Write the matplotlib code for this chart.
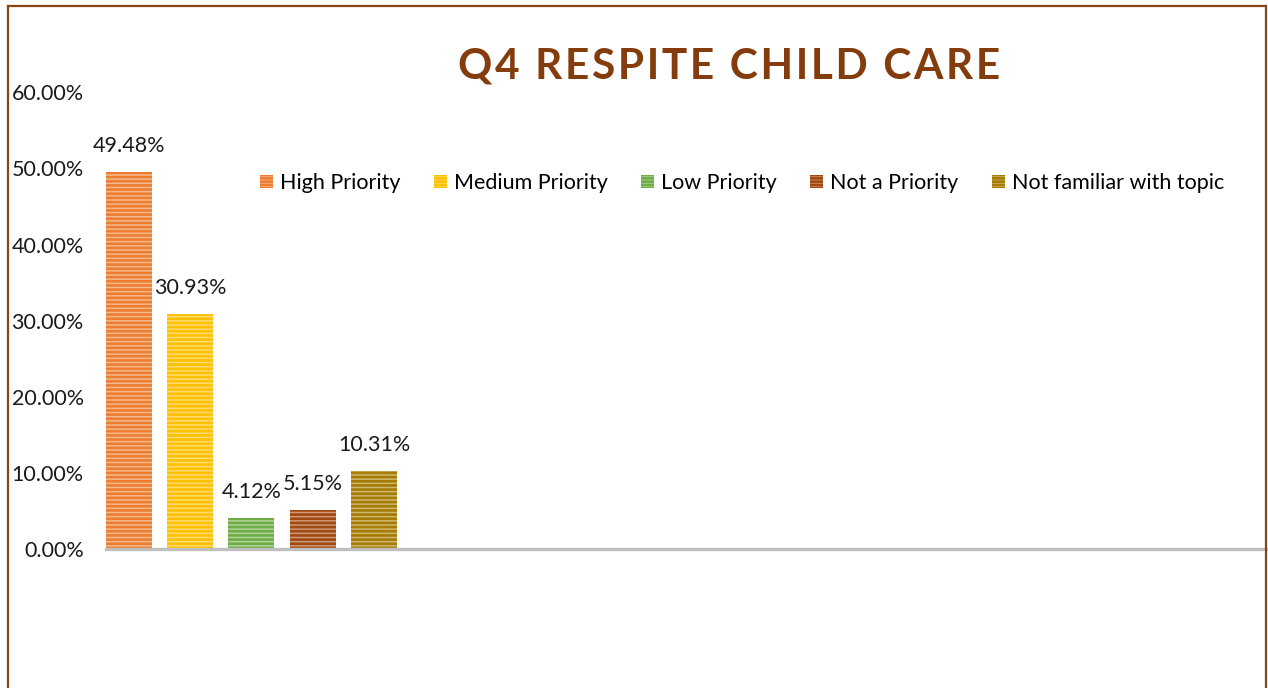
import matplotlib
matplotlib.use('Agg')
import matplotlib.pyplot as plt
from matplotlib.patches import Patch
from matplotlib.lines import Line2D
from matplotlib.colors import to_rgb

plt.rcParams['font.family'] = ['Lato', 'DejaVu Sans']
plt.rcParams['hatch.linewidth'] = 1.9

# 数据
series = ['High Priority', 'Medium Priority', 'Low Priority', 'Not a Priority', 'Not familiar with topic']
values = [0.4948, 0.3093, 0.0412, 0.0515, 0.1031]
colors = ['#ED7D31', '#FFC000', '#70AD47', '#A3480F', '#A57C00']
yticks = [0.0, 0.1, 0.2, 0.3, 0.4, 0.5, 0.6]
title = 'Q4 RESPITE CHILD CARE'


def lighten(c, amt=0.5):
    r, g, b = to_rgb(c)
    return (r + (1 - r) * amt, g + (1 - g) * amt, b + (1 - b) * amt)


fig = plt.figure(figsize=(12.68, 6.88), dpi=100)
ax = fig.add_axes([106 / 1268, 139 / 688, 1160 / 1268, (549 - 92.4) / 688])

for i, (name, v, c) in enumerate(zip(series, values, colors)):
    ax.bar(i, v, width=0.75, facecolor=lighten(c, 0.45), edgecolor=c,
           hatch='----', linewidth=0, label=name)
    ax.text(i, v + 0.021, f'{v * 100:.2f}%', ha='center', va='bottom', fontsize=15.5, color='#1a1a1a')

ax.set_xlim(-0.375, 18.565)
ax.set_ylim(0, 0.6)
ax.set_yticks(yticks)
ax.set_yticklabels([f'{t * 100:.2f}%' for t in yticks], fontsize=15.5, color='#1a1a1a')
ax.tick_params(axis='y', length=0, pad=16)
ax.set_xticks([])
for s in ['top', 'right', 'left']:
    ax.spines[s].set_visible(False)
ax.spines['bottom'].set_color('#BFBFBF')
ax.spines['bottom'].set_linewidth(2.4)

# 标题 (字间距用细空格)
spaced = '\u200a'.join(title)
fig.text(729 / 1268, 1 - 67 / 688, spaced, ha='center', va='center', fontsize=30.5,
         fontweight='bold', color='#843C0C')

# 图例
handles = [Patch(facecolor=lighten(c, 0.45), edgecolor=c, hatch='-----', linewidth=0) for c in colors]
fig.legend(handles, series, loc='center', bbox_to_anchor=(742 / 1268, 1 - 183 / 688), ncol=5,
           frameon=False, fontsize=15.5, handlelength=0.6, handleheight=0.6, handletextpad=0.33,
           columnspacing=1.55)

# 外框
bc = '#8B4513'
fig.add_artist(Line2D([8 / 1268, 8 / 1268], [0, 1 - 6 / 688], color=bc, lw=1.6, transform=fig.transFigure))
fig.add_artist(Line2D([8 / 1268, 1266 / 1268], [1 - 6 / 688, 1 - 6 / 688], color=bc, lw=1.6, transform=fig.transFigure))
fig.add_artist(Line2D([1266 / 1268, 1266 / 1268], [0, 1 - 6 / 688], color=bc, lw=1.6, transform=fig.transFigure))

plt.savefig('out.png', dpi=100)
